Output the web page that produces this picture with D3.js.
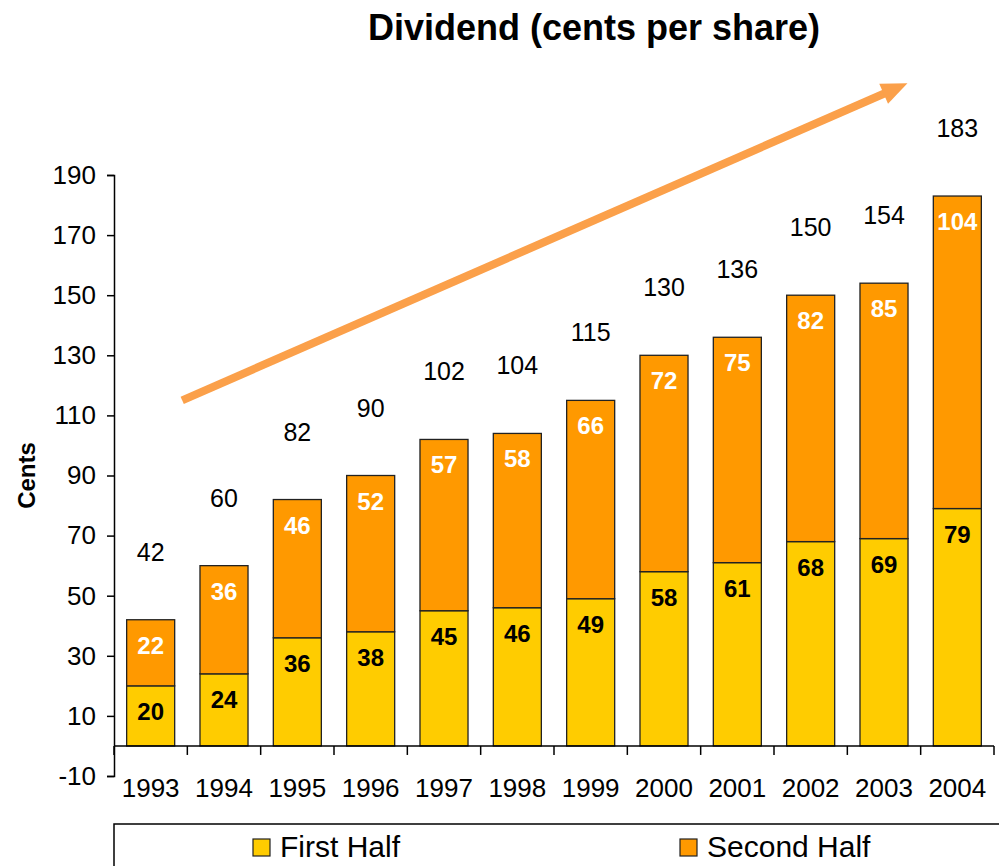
<!DOCTYPE html>
<html>
<head>
<meta charset="utf-8">
<script src="https://cdn.jsdelivr.net/npm/d3@7/dist/d3.min.js"></script>
<style>
  html, body { margin: 0; padding: 0; background: #fff; }
  svg { display: block; }
  text { font-family: "Liberation Sans", Arial, sans-serif; }
</style>
</head>
<body>
<script>
// ---- data ----
const years = ["1993","1994","1995","1996","1997","1998","1999","2000","2001","2002","2003","2004"];
const firstHalf = [20, 24, 36, 38, 45, 46, 49, 58, 61, 68, 69, 79];
const secondHalf = [22, 36, 46, 52, 57, 58, 66, 72, 75, 82, 85, 104];
const totals = [42, 60, 82, 90, 102, 104, 115, 130, 136, 150, 154, 183];
const yTicks = [-10, 10, 30, 50, 70, 90, 110, 130, 150, 170, 190];
const seriesNames = ["First Half", "Second Half"];
const title = "Dividend (cents per share)";
const yTitle = "Cents";

const W = 999, H = 866;
const colors = { first: "#FFCC00", second: "#FF9900", arrow: "#FBA04A" };

const svg = d3.select("body").append("svg").attr("width", W).attr("height", H);

const x = d3.scaleBand().domain(years).range([114, 994]).paddingInner(0.345).paddingOuter(0.1725);
const y = d3.scaleLinear().domain([-10, 190]).range([776, 175]);

// title
svg.append("text").attr("x", 594).attr("y", 40).attr("text-anchor", "middle")
  .attr("font-size", 36).attr("font-weight", "bold").text(title);

// y axis
const yAxis = svg.append("g").attr("transform", "translate(114,0)")
  .call(d3.axisLeft(y).tickValues(yTicks).tickSize(7).tickPadding(11).tickFormat(d => String(d)));
yAxis.select(".domain").attr("stroke", "#000").attr("stroke-width", 1.5);
yAxis.selectAll(".tick line").attr("stroke", "#000").attr("stroke-width", 1.5);
yAxis.selectAll("text").attr("font-size", 26).attr("fill", "#000")
  .attr("font-family", "'Liberation Sans', Arial, sans-serif");

// y axis title
svg.append("text").attr("transform", `translate(35,${y(90)}) rotate(-90)`)
  .attr("text-anchor", "middle").attr("font-size", 24).attr("font-weight", "bold").text(yTitle);

// bars
const rows = years.map((yr, i) => ({ yr, a: firstHalf[i], b: secondHalf[i], t: totals[i] }));
const g = svg.append("g");
g.selectAll("rect.first").data(rows).join("rect").attr("class", "first")
  .attr("x", d => x(d.yr)).attr("width", x.bandwidth())
  .attr("y", d => y(d.a)).attr("height", d => y(0) - y(d.a))
  .attr("fill", colors.first).attr("stroke", "#222").attr("stroke-width", 1.3);
g.selectAll("rect.second").data(rows).join("rect").attr("class", "second")
  .attr("x", d => x(d.yr)).attr("width", x.bandwidth())
  .attr("y", d => y(d.a + d.b)).attr("height", d => y(d.a) - y(d.a + d.b))
  .attr("fill", colors.second).attr("stroke", "#222").attr("stroke-width", 1.3);

// labels
g.selectAll("text.la").data(rows).join("text").attr("class", "la")
  .attr("x", d => x(d.yr) + x.bandwidth() / 2).attr("y", d => y(d.a) + 34)
  .attr("text-anchor", "middle").attr("font-size", 24).attr("font-weight", "bold")
  .attr("fill", "#000").text(d => d.a);
g.selectAll("text.lb").data(rows).join("text").attr("class", "lb")
  .attr("x", d => x(d.yr) + x.bandwidth() / 2).attr("y", d => y(d.a + d.b) + 34)
  .attr("text-anchor", "middle").attr("font-size", 24).attr("font-weight", "bold")
  .attr("fill", "#fff").text(d => d.b);
g.selectAll("text.lt").data(rows).join("text").attr("class", "lt")
  .attr("x", d => x(d.yr) + x.bandwidth() / 2).attr("y", d => y(d.t) - 59)
  .attr("text-anchor", "middle").attr("font-size", 25).attr("fill", "#000").text(d => d.t);

// x axis at zero
const xAxisY = y(0);
svg.append("line").attr("x1", 114).attr("x2", 994).attr("y1", xAxisY).attr("y2", xAxisY)
  .attr("stroke", "#000").attr("stroke-width", 1.5);
const bounds = d3.range(years.length + 1).map(i => 114 + i * (880 / years.length));
svg.selectAll("line.xt").data(bounds).join("line").attr("class", "xt")
  .attr("x1", d => d).attr("x2", d => d).attr("y1", xAxisY).attr("y2", xAxisY + 9)
  .attr("stroke", "#000").attr("stroke-width", 1.5);
svg.selectAll("text.xl").data(years).join("text").attr("class", "xl")
  .attr("x", d => x(d) + x.bandwidth() / 2).attr("y", 797)
  .attr("text-anchor", "middle").attr("font-size", 26).text(d => d);

// trend arrow (annotation)
const ax = d3.scaleLinear().domain([0, years.length]).range([114, 994]);
const x0 = ax(0.93), y0 = y(115), x1 = ax(10.82), y1 = y(220.5);
const ang = Math.atan2(y1 - y0, x1 - x0);
const headLen = 26, headW = 11;
const bx = x1 - headLen * Math.cos(ang), by = y1 - headLen * Math.sin(ang);
svg.append("line").attr("x1", x0).attr("y1", y0).attr("x2", bx + 2 * Math.cos(ang)).attr("y2", by + 2 * Math.sin(ang))
  .attr("stroke", colors.arrow).attr("stroke-width", 8);
const nx = -Math.sin(ang), ny = Math.cos(ang);
svg.append("path")
  .attr("d", `M${x1},${y1}L${bx + nx * headW},${by + ny * headW}L${bx - nx * headW},${by - ny * headW}Z`)
  .attr("fill", colors.arrow);

// legend
svg.append("rect").attr("x", 114).attr("y", 824).attr("width", 920).attr("height", 80)
  .attr("fill", "none").attr("stroke", "#000").attr("stroke-width", 1.5);
const legendItems = [
  { name: seriesNames[0], color: colors.first, sx: 253 },
  { name: seriesNames[1], color: colors.second, sx: 680 }
];
const lg = svg.selectAll("g.leg").data(legendItems).join("g").attr("class", "leg");
lg.append("rect").attr("x", d => d.sx).attr("y", 839).attr("width", 17).attr("height", 17)
  .attr("fill", d => d.color).attr("stroke", "#222").attr("stroke-width", 1.2);
lg.append("text").attr("x", d => d.sx + 27).attr("y", 857).attr("font-size", 30).text(d => d.name);
</script>
</body>
</html>
